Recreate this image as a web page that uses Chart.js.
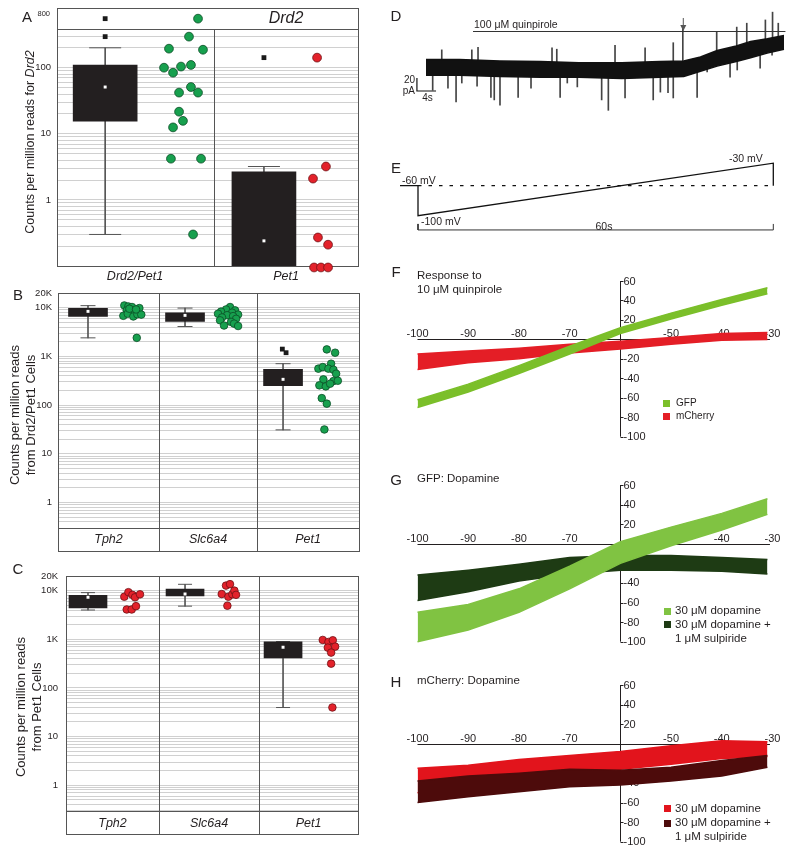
<!DOCTYPE html>
<html>
<head>
<meta charset="utf-8">
<script src="https://cdn.jsdelivr.net/npm/chart.js@4.4.1/dist/chart.umd.min.js"></script>
<style>
  body { margin: 0; background: #fff; width: 800px; height: 853px; position: relative; overflow: hidden;
         font-family: "Liberation Sans", Arial, Helvetica, sans-serif; color: #231f20; }
  canvas { position: absolute; }
  .t { position: absolute; white-space: nowrap; line-height: 1; }
  .sq { position: absolute; width: 7px; height: 7px; }
</style>
</head>
<body>
<canvas id="cA" width="400" height="290" style="left:0;top:0"></canvas>
<canvas id="cB" width="400" height="280" style="left:0;top:280px"></canvas>
<canvas id="cC" width="400" height="293" style="left:0;top:560px"></canvas>
<canvas id="cD" width="400" height="140" style="left:400px;top:0"></canvas>
<canvas id="cE" width="400" height="100" style="left:400px;top:140px"></canvas>
<canvas id="cF" width="400" height="185" style="left:400px;top:265px"></canvas>
<canvas id="cG" width="400" height="185" style="left:400px;top:470px"></canvas>
<canvas id="cH" width="400" height="183" style="left:400px;top:670px"></canvas>
<script>
// ------------------------------------------------------
// Data
// ------------------------------------------------------
const FONT = '"Liberation Sans", Arial, Helvetica, sans-serif';

// A - Drd2 counts (columns: Drd2/Pet1, Pet1)
const aCats = ['Drd2/Pet1', 'Pet1'];
const aBoxX = [0.32, 1.375];
const aBoxLo = [15.5, 0.1];
const aBoxHi = [110, 2.65];
const aWhiskLo = [0.3, null];
const aWhiskHi = [200, 3.2];
const aMedian = [51, 0.24];
const aOutX = [0.32, 0.32, 1.375];
const aOutY = [552, 295, 142];
const aGreenX = [0.937, 0.877, 0.744, 0.970, 0.711, 0.771, 0.824, 0.890, 0.890, 0.811, 0.937, 0.811, 0.837, 0.771, 0.757, 0.957, 0.904];
const aGreenY = [552, 295, 194, 187, 100, 84, 104, 110, 51, 42, 42, 21.6, 15.7, 12.5, 4.2, 4.2, 0.30];
const aRedX = [1.728, 1.787, 1.701, 1.734, 1.801, 1.708, 1.754, 1.801];
const aRedY = [142, 3.2, 2.1, 0.27, 0.21, 0.095, 0.095, 0.095];
const aTickVals = [1, 10, 100];
const aTickText = ['1', '10', '100'];
const aTopLabel = '800';

// B - Drd2/Pet1 cells (Tph2, Slc6a4, Pet1)
const bCats = ['Tph2', 'Slc6a4', 'Pet1'];
const bBoxX = [0.299, 1.266, 2.243];
const bBoxLo = [6600, 5200, 250];
const bBoxHi = [9700, 7800, 541];
const bWhiskLo = [2400, 4100, 31];
const bWhiskHi = [11000, 9800, 708];
const bMedian = [8400, 6950, 338];
const bOutX = [2.236, 2.273];
const bOutY = [1410, 1190];
const bDotX = [0.661, 0.701, 0.738, 0.811, 0.685, 0.725, 0.768, 0.651, 0.695, 0.751, 0.791, 0.830, 0.711, 0.778, 0.785,
  1.715, 1.675, 1.765, 1.625, 1.735, 1.595, 1.795, 1.685, 1.745, 1.635, 1.775, 1.615, 1.725, 1.755, 1.655, 1.795,
  2.679, 2.762, 2.722, 2.595, 2.639, 2.695, 2.745, 2.772, 2.645, 2.745, 2.789, 2.605, 2.669, 2.712, 2.629, 2.679, 2.655];
const bDotY = [11100, 10600, 10300, 9800, 8800, 8500, 8100, 6800, 7500, 6600, 7300, 7200, 9500, 9200, 2400,
  10300, 9200, 8800, 8300, 7900, 7500, 7200, 7000, 6700, 6300, 5900, 5500, 5100, 4700, 4300, 4200,
  1390, 1190, 708, 560, 603, 560, 533, 441, 337, 311, 316, 254, 242, 275, 139, 107, 31.6];

// C - Pet1 cells
const cCats = ['Tph2', 'Slc6a4', 'Pet1'];
const cBoxX = [0.226, 1.223, 2.230];
const cBoxLo = [4400, 7800, 414];
const cBoxHi = [8000, 10800, 883];
const cWhiskLo = [4000, 4800, 39.6];
const cWhiskHi = [9100, 13500, 900];
const cMedian = [7300, 8500, 687];
const cDotX = [0.599, 0.641, 0.682, 0.709, 0.760, 0.624, 0.675, 0.719,
  1.644, 1.685, 1.600, 1.668, 1.709, 1.730, 1.747, 1.658,
  2.638, 2.696, 2.741, 2.765, 2.690, 2.724, 2.724, 2.737];
const cDotY = [7500, 9300, 8200, 7300, 8400, 4100, 4100, 4800,
  12700, 13600, 8500, 7500, 8400, 10000, 8200, 4900,
  970, 882, 955, 707, 674, 533, 316, 39.7];
const bcTickVals = [1, 10, 100, 1000, 10000, 20000];
const bcTickText = ['1', '10', '100', '1K', '10K', '20K'];

// D - holding current trace (s, pA)
const dTime = [0, 7, 15.5, 24, 32, 41, 49, 54, 57.5, 61, 65, 68, 71.5, 75];
const dUpper = [16, 16, 14, 13, 11, 11, 13, 14, 20, 30, 37, 44, 48, 53];
const dLower = [-8, -8, -10, -11, -11, -13, -11, -10, -2, 6, 13, 19, 26, 32];
const dSpikeT = [1.4, 4.6, 6.3, 7.5, 10.7, 13.6, 14.3, 15.5, 19.3, 22.0, 28.1, 29.6, 31.7, 36.8, 38.2, 41.7, 47.6, 49.1,
  50.7, 51.8, 56.8, 58.9, 63.7, 65.2, 70.0, 72.5,
  3.3, 9.6, 10.9, 26.4, 27.4, 39.6, 45.9, 51.8, 53.8, 60.9, 65.1, 67.2, 71.1, 72.6, 73.8];
const dSpikeFrom = [3, 3, 3, 3, 3, 3, 3, 3, 3, 3, 3, 3, 3, 3, 3, 3, 3, 3, 3, 3, 8, 12, 22, 25, 33, 37,
  3, 3, 3, 3, 3, 3, 3, 3, 3, 18, 25, 30, 37, 38, 40];
const dSpikeTo = [-31, -28, -49, -20, -25, -42, -46, -54, -42, -28, -42, -20, -26, -46, -62, -43, -46, -34,
  -35, -43, -42, -3, -11, 0, 3, 23,
  31, 31, 35, 34, 32, 38, 34, 42, 66, 58, 66, 72, 77, 89, 72];

// E - voltage protocol (s, mV)
const eTime = [-3.04, 0, 0, 60, 60, 63.1];
const eVolt = [-60, -60, -100, -30, -60, -60];
const eHoldT = [0, 60];
const eHoldV = [-60, -60];
const eBracketT = [0, 0, 60, 60];
const eBracketV = [-111, -119, -119, -111];

// F, G, H - I/V ramps (mV, pA): upper and lower edge of each noisy trace
const ivMv = [-100, -90, -80, -70, -60, -50, -40, -31];
const ivXTicks = [-100, -90, -80, -70, -50, -40, -30];
const ivYTicks = [60, 40, 20, -20, -40, -60, -80, -100];
const fGfpHi = [-62, -46, -27, -7, 12, 27, 41, 53];
const fGfpLo = [-70, -54, -35, -15, 6, 21, 35, 47];
const fCherryHi = [-15, -12, -9, -5, -2, 2, 6, 7];
const fCherryLo = [-31, -24, -20, -14, -10, -5, -1, 0];
const gDaHi = [-70, -62, -46, -23, 2, 17, 31, 46];
const gDaLo = [-100, -88, -70, -46, -20, -2, 14, 30];
const gSulHi = [-32, -27, -21, -14, -12, -12, -14, -16];
const gSulLo = [-58, -49, -38, -31, -27, -27, -28, -31];
const hDaHi = [-25, -22, -16, -12, -8, -2, 3, 2];
const hDaLo = [-50, -44, -37, -31, -26, -21, -15, -13];
const hSulHi = [-38, -33, -30, -26, -27, -24, -17, -12];
const hSulLo = [-60, -54, -49, -44, -42, -38, -33, -24];

// ------------------------------------------------------
// helpers
// ------------------------------------------------------
function T(html, x, y, size, align, extra) {
  const d = document.createElement('div');
  d.className = 't';
  d.innerHTML = html;
  d.style.left = x + 'px';
  d.style.top = y + 'px';
  d.style.fontSize = size + 'px';
  const ax = align === 'center' ? '-50%' : align === 'right' ? '-100%' : '0';
  d.style.transform = 'translate(' + ax + ',-50%)';
  if (extra) Object.assign(d.style, extra);
  document.body.appendChild(d);
  return d;
}
function rotT(html, x, y, size) {
  const d = T(html, x, y, size, 'center', { textAlign: 'center', lineHeight: '16px' });
  d.style.transform = 'translate(-50%,-50%) rotate(-90deg)';
}
function sq(x, y, color) {
  const d = document.createElement('div');
  d.className = 'sq';
  d.style.left = (x - 3.5) + 'px';
  d.style.top = (y - 3.5) + 'px';
  d.style.background = color;
  document.body.appendChild(d);
}
function pts(xs, ys) { return xs.map((x, i) => ({ x: x, y: ys[i] })); }
function logGrid(decades, min, max) {
  const out = [];
  decades.forEach(d => [1, 2, 3, 4, 5, 6, 7, 8, 9].forEach(m => {
    const v = +(d * m).toPrecision(6);
    if (v >= min && v <= max) out.push(v);
  }));
  return out;
}
function tickLabel(v, vals, texts) {
  const i = vals.findIndex(t => Math.abs(t - v) / t < 1e-6);
  return i < 0 ? '' : texts[i];
}

// frame, header row and column dividers of the box panels
const boxFrame = {
  id: 'boxFrame',
  beforeDatasetsDraw(chart, args, o) {
    const { ctx, chartArea: a, scales: { x, y } } = chart;
    const L = Math.round(a.left) + 0.5, R = Math.round(a.right) + 0.5;
    const top = Math.round(a.top) + 0.5;
    const bottom = Math.round(a.bottom + (o.labelRow || 0)) + 0.5;
    const divTop = o.header ? Math.round(y.getPixelForValue(o.header)) + 0.5 : top;
    ctx.save();
    ctx.strokeStyle = '#555';
    ctx.lineWidth = 1;
    ctx.strokeRect(L, top, R - L, bottom - top);
    ctx.beginPath();
    if (o.header) { ctx.moveTo(L, divTop); ctx.lineTo(R, divTop); }
    if (o.labelRow) {
      const yb = Math.round(a.bottom) + 0.5;
      ctx.moveTo(L, yb); ctx.lineTo(R, yb);
    }
    (o.dividers || []).forEach(v => {
      const px = Math.round(x.getPixelForValue(v)) + 0.5;
      ctx.moveTo(px, divTop); ctx.lineTo(px, bottom);
    });
    ctx.stroke();
    ctx.restore();
  }
};

function boxPanel(id, p) {
  const caps = [];
  p.boxX.forEach((x, i) => {
    if (p.wLo[i] != null) caps.push({ x: x, y: p.wLo[i] });
    caps.push({ x: x, y: p.wHi[i] });
  });
  const whiskers = p.boxX.map((x, i) => ({ x: x, y: [p.wLo[i] != null ? p.wLo[i] : p.boxLo[i], p.wHi[i]] }));
  const boxes = p.boxX.map((x, i) => ({ x: x, y: [p.boxLo[i], p.boxHi[i]] }));
  const dotSets = p.dots.map(d => ({
    type: 'scatter', data: pts(d.x, d.y), pointRadius: p.dotR, backgroundColor: d.fill,
    borderColor: d.edge, borderWidth: 0.8, order: 1, clip: false
  }));
  new Chart(id, {
    type: 'scatter',
    data: {
      datasets: dotSets.concat([
        { type: 'scatter', data: pts(p.outX, p.outY), pointStyle: 'rect', pointRadius: 3.4,
          backgroundColor: '#1a1a1a', borderWidth: 0, order: 2, clip: false },
        { type: 'scatter', data: pts(p.boxX, p.median), pointStyle: 'rect', pointRadius: 2.1,
          backgroundColor: '#fff', borderWidth: 0, order: 2 },
        { type: 'bar', data: boxes, barThickness: p.boxW, backgroundColor: '#231f20', borderWidth: 0,
          grouped: false, order: 3 },
        { type: 'scatter', data: caps, pointStyle: 'line', pointRadius: p.capR, borderColor: '#555',
          borderWidth: 1, order: 4 },
        { type: 'bar', data: whiskers, barThickness: 1, backgroundColor: '#555', borderWidth: 0,
          grouped: false, order: 5 }
      ])
    },
    options: {
      responsive: false,
      animation: false,
      events: [],
      layout: { padding: p.pad, autoPadding: false },
      plugins: {
        legend: { display: false },
        tooltip: { enabled: false },
        boxFrame: { header: p.header, labelRow: p.labelRow, dividers: p.dividers }
      },
      scales: {
        x: { type: 'linear', min: 0, max: p.xMax, display: false, offset: false, grid: { offset: false } },
        y: {
          type: 'logarithmic', min: p.yMin, max: p.yMax, beginAtZero: false,
          afterBuildTicks: s => { s.ticks = p.grid.map(v => ({ value: v })); },
          // fixed axis width, and no extra room for the end labels
          afterFit: s => { s.width = p.axisW; s.paddingTop = 0; s.paddingBottom = 0; },
          border: { display: false },
          grid: {
            drawTicks: false, lineWidth: 1,
            color: c => (p.gridTop && c.tick && c.tick.value > p.gridTop) ? 'rgba(0,0,0,0)' : '#d0d0d0'
          },
          ticks: {
            autoSkip: false, padding: p.tickPad, color: '#231f20',
            font: { family: FONT, size: 9.5 },
            callback: v => tickLabel(v, p.tickVals, p.tickText)
          }
        }
      }
    },
    plugins: [boxFrame]
  });
}

// ------------------------------------------------------
// Panels A, B, C
// ------------------------------------------------------
boxPanel('cA', {
  xMax: 2, yMin: 0.1, yMax: 800, axisW: 57, tickPad: 6,
  pad: { left: 0, top: 8, right: 42, bottom: 24 },
  grid: logGrid([0.1, 1, 10, 100], 0.1, 800), gridTop: 390,
  tickVals: aTickVals, tickText: aTickText,
  header: 390, dividers: [1.043],
  boxX: aBoxX, boxLo: aBoxLo, boxHi: aBoxHi, wLo: aWhiskLo, wHi: aWhiskHi, median: aMedian,
  outX: aOutX, outY: aOutY, boxW: 64, capR: 16, dotR: 4.4,
  dots: [
    { x: aGreenX, y: aGreenY, fill: '#17a04e', edge: '#0b4d26' },
    { x: aRedX, y: aRedY, fill: '#e3222b', edge: '#6e1014' }
  ]
});

boxPanel('cB', {
  xMax: 3, yMin: 0.3, yMax: 20000, axisW: 58, tickPad: 6,
  pad: { left: 0, top: 13, right: 41, bottom: 32 },
  grid: logGrid([0.1, 1, 10, 100, 1000, 10000], 0.3, 20000),
  tickVals: bcTickVals, tickText: bcTickText,
  labelRow: 23, dividers: [1.007, 1.984],
  boxX: bBoxX, boxLo: bBoxLo, boxHi: bBoxHi, wLo: bWhiskLo, wHi: bWhiskHi, median: bMedian,
  outX: bOutX, outY: bOutY, boxW: 39, capR: 7.5, dotR: 3.8,
  dots: [{ x: bDotX, y: bDotY, fill: '#17a04e', edge: '#0b4d26' }]
});

boxPanel('cC', {
  xMax: 3, yMin: 0.3, yMax: 20000, axisW: 66, tickPad: 8,
  pad: { left: 0, top: 16, right: 42, bottom: 42.3 },
  grid: logGrid([0.1, 1, 10, 100, 1000, 10000], 0.3, 20000),
  tickVals: bcTickVals, tickText: bcTickText,
  labelRow: 23.3, dividers: [0.956, 1.984],
  boxX: cBoxX, boxLo: cBoxLo, boxHi: cBoxHi, wLo: cWhiskLo, wHi: cWhiskHi, median: cMedian,
  outX: [], outY: [], boxW: 38, capR: 7, dotR: 3.8,
  dots: [{ x: cDotX, y: cDotY, fill: '#e3222b', edge: '#6e1014' }]
});

// ------------------------------------------------------
// Panel D - current trace
// ------------------------------------------------------
const dNotes = {
  id: 'dNotes',
  afterDatasetsDraw(chart, args, o) {
    const { ctx, scales: { x, y } } = chart;
    ctx.save();
    ctx.strokeStyle = '#333';
    ctx.lineWidth = 1.2;
    ctx.beginPath();
    const yd = Math.round(y.getPixelForValue(o.drugV)) + 0.5;
    ctx.moveTo(x.getPixelForValue(o.drugT[0]), yd);
    ctx.lineTo(x.getPixelForValue(o.drugT[1]), yd);
    ctx.stroke();
    // arrow
    const ax = x.getPixelForValue(o.arrowT);
    const a0 = y.getPixelForValue(o.arrowV[0]), a1 = y.getPixelForValue(o.arrowV[1]);
    ctx.strokeStyle = '#555';
    ctx.lineWidth = 1;
    ctx.beginPath(); ctx.moveTo(ax, a0); ctx.lineTo(ax, a1 - 2); ctx.stroke();
    ctx.fillStyle = '#555';
    ctx.beginPath(); ctx.moveTo(ax - 3, a1 - 6); ctx.lineTo(ax + 3, a1 - 6); ctx.lineTo(ax, a1); ctx.closePath(); ctx.fill();
    // scale bar
    ctx.strokeStyle = '#111';
    ctx.lineWidth = 1.2;
    const bx0 = x.getPixelForValue(o.barT[0]), bx1 = x.getPixelForValue(o.barT[1]);
    const by0 = y.getPixelForValue(o.barV[0]), by1 = y.getPixelForValue(o.barV[1]);
    ctx.beginPath(); ctx.moveTo(bx0, by0); ctx.lineTo(bx0, by1); ctx.lineTo(bx1, by1); ctx.stroke();
    ctx.restore();
  }
};

new Chart('cD', {
  type: 'scatter',
  data: {
    datasets: [
      { type: 'line', data: pts(dTime, dUpper), borderColor: '#111', backgroundColor: '#111', borderWidth: 1.5,
        pointRadius: 0, fill: '+1', clip: false },
      { type: 'line', data: pts(dTime, dLower), borderColor: '#111', borderWidth: 1.5, pointRadius: 0,
        fill: false, clip: false },
      { type: 'bar', data: dSpikeT.map((t, i) => ({ x: t, y: [dSpikeFrom[i], dSpikeTo[i]] })), barThickness: 1,
        backgroundColor: '#444', borderWidth: 0, grouped: false, clip: false }
    ]
  },
  options: {
    responsive: false, animation: false, events: [],
    layout: { padding: { left: 26, right: 16, top: 10, bottom: 30 }, autoPadding: false },
    plugins: {
      legend: { display: false }, tooltip: { enabled: false },
      dNotes: { drugT: [9.85, 75.3], drugV: 60, arrowT: 53.9, arrowV: [80, 60], barT: [-1.9, 2.1], barV: [-12.3, -32.3] }
    },
    scales: {
      x: { type: 'linear', min: 0, max: 75, display: false, offset: false },
      y: { type: 'linear', min: -61.5, max: 92.3, display: false }
    }
  },
  plugins: [dNotes]
});

// ------------------------------------------------------
// Panel E - voltage protocol
// ------------------------------------------------------
new Chart('cE', {
  type: 'scatter',
  data: {
    datasets: [
      { type: 'line', data: pts(eTime, eVolt), borderColor: '#111', borderWidth: 1.3, pointRadius: 0, fill: false, clip: false },
      { type: 'line', data: pts(eHoldT, eHoldV), borderColor: '#111', borderWidth: 1.3, borderDash: [3.5, 7],
        pointRadius: 0, fill: false, clip: false },
      { type: 'line', data: pts(eBracketT, eBracketV), borderColor: '#333', borderWidth: 1, pointRadius: 0, fill: false, clip: false }
    ]
  },
  options: {
    responsive: false, animation: false, events: [],
    layout: { padding: { left: 18, right: 26.7, top: 10, bottom: 0 }, autoPadding: false },
    plugins: { legend: { display: false }, tooltip: { enabled: false } },
    scales: {
      x: { type: 'linear', min: 0, max: 60, display: false },
      y: { type: 'linear', min: -132.4, max: -12.4, display: false }
    }
  }
});

// ------------------------------------------------------
// Panels F, G, H - I/V curves
// ------------------------------------------------------
const ivAxes = {
  id: 'ivAxes',
  beforeDatasetsDraw(chart) {
    const { ctx, scales: { x, y } } = chart;
    const x0 = Math.round(x.getPixelForValue(-60)) + 0.5;
    const y0 = Math.round(y.getPixelForValue(0)) + 0.5;
    ctx.save();
    ctx.strokeStyle = '#231f20';
    ctx.lineWidth = 1;
    ctx.beginPath();
    ctx.moveTo(x.getPixelForValue(-100), y0); ctx.lineTo(x.getPixelForValue(-30.5), y0);
    ctx.moveTo(x0, y.getPixelForValue(60)); ctx.lineTo(x0, y.getPixelForValue(-100));
    ivYTicks.forEach(v => {
      const py = Math.round(y.getPixelForValue(v)) + 0.5;
      ctx.moveTo(x0, py); ctx.lineTo(x0 + 3, py);
    });
    ctx.stroke();
    ctx.fillStyle = '#231f20';
    ctx.font = '11px ' + FONT;
    ctx.textAlign = 'center';
    ctx.textBaseline = 'alphabetic';
    ivXTicks.forEach(v => ctx.fillText(String(v), x.getPixelForValue(v), y0 - 3));
    ctx.textAlign = 'left';
    ctx.textBaseline = 'middle';
    ivYTicks.forEach(v => ctx.fillText(String(v), x0 + 3, y.getPixelForValue(v) + 0.5));
    ctx.restore();
  }
};

function ivPanel(id, pad, bands) {
  const datasets = [];
  bands.forEach(b => {
    datasets.push({ type: 'line', data: pts(ivMv, b.hi), borderColor: b.color, backgroundColor: b.color,
      borderWidth: 1.5, pointRadius: 0, fill: '+1', clip: false });
    datasets.push({ type: 'line', data: pts(ivMv, b.lo), borderColor: b.color, borderWidth: 1.5,
      pointRadius: 0, fill: false, clip: false });
  });
  new Chart(id, {
    type: 'scatter',
    data: { datasets: datasets },
    options: {
      responsive: false, animation: false, events: [],
      layout: { padding: pad, autoPadding: false },
      plugins: { legend: { display: false }, tooltip: { enabled: false } },
      scales: {
        x: { type: 'linear', min: -100, max: -30, display: false },
        y: { type: 'linear', min: -100, max: 60, display: false }
      }
    },
    plugins: [ivAxes]
  });
}

ivPanel('cF', { left: 17.5, right: 27.5, top: 16, bottom: 13.3 }, [
  { hi: fGfpHi, lo: fGfpLo, color: '#7bbf2a' },
  { hi: fCherryHi, lo: fCherryLo, color: '#e41e26' }
]);
ivPanel('cG', { left: 17.5, right: 27.5, top: 15, bottom: 13.3 }, [
  { hi: gDaHi, lo: gDaLo, color: '#80c342' },
  { hi: gSulHi, lo: gSulLo, color: '#1e3b14' }
]);
ivPanel('cH', { left: 17.5, right: 27.5, top: 15, bottom: 11.3 }, [
  { hi: hSulHi, lo: hSulLo, color: '#4d0b0b' },
  { hi: hDaHi, lo: hDaLo, color: '#e2141c' }
]);

// ------------------------------------------------------
// Text
// ------------------------------------------------------
// A
T('A', 27, 16, 15, 'center');
T(aTopLabel, 50, 14, 7.5, 'right');
rotT('Counts per million reads for <i>Drd2</i>', 30, 142, 12.5);
T('<i>Drd2</i>', 286, 18, 16, 'center');
T('<i>' + aCats[0] + '</i>', 135, 276, 12.5, 'center');
T('<i>' + aCats[1] + '</i>', 286, 276, 12.5, 'center');
// B
T('B', 18, 294, 15, 'center');
rotT('Counts per million reads<br>from Drd2/Pet1 Cells', 22.5, 415, 13);
[108.5, 208, 308].forEach((x, i) => T('<i>' + bCats[i] + '</i>', x, 538.5, 12.5, 'center'));
// C
T('C', 18, 568, 15, 'center');
rotT('Counts per million reads<br>from Pet1 Cells', 28.5, 707, 13);
[112.5, 209, 308.5].forEach((x, i) => T('<i>' + cCats[i] + '</i>', x, 823, 12.5, 'center'));
// D
T('D', 396, 15, 15, 'center');
T('100 μM quinpirole', 474, 24, 10.5, 'left');
T('20', 415, 80, 10, 'right');
T('pA', 415, 90.5, 10, 'right');
T('4s', 427.5, 97.5, 10, 'center');
// E
T('E', 396, 167, 15, 'center');
T('-60 mV', 402, 180, 10.5, 'left');
T('-100 mV', 421, 221, 10.5, 'left');
T('-30 mV', 729, 157.5, 10.5, 'left');
T('60s', 604, 226, 10.5, 'center');
// F
T('F', 396, 271, 15, 'center');
T('Response to', 417, 276, 11.5, 'left');
T('10 μM quinpirole', 417, 289.5, 11.5, 'left');
sq(666.5, 403, '#7bbf2a'); T('GFP', 676, 403, 10, 'left');
sq(666.5, 416, '#e41e26'); T('mCherry', 676, 416, 10, 'left');
// G
T('G', 396, 479, 15, 'center');
T('GFP: Dopamine', 417, 479, 11.5, 'left');
sq(667, 611, '#80c342'); T('30 μM dopamine', 675, 611, 11.5, 'left');
sq(667, 624.5, '#1e3b14'); T('30 μM dopamine +', 675, 624.5, 11.5, 'left');
T('1 μM sulpiride', 675, 638.5, 11.5, 'left');
// H
T('H', 396, 681, 15, 'center');
T('mCherry: Dopamine', 417, 681, 11.5, 'left');
sq(667, 808.5, '#e2141c'); T('30 μM dopamine', 675, 808.5, 11.5, 'left');
sq(667, 823, '#4d0b0b'); T('30 μM dopamine +', 675, 823, 11.5, 'left');
T('1 μM sulpiride', 675, 836.5, 11.5, 'left');
</script>
</body>
</html>
